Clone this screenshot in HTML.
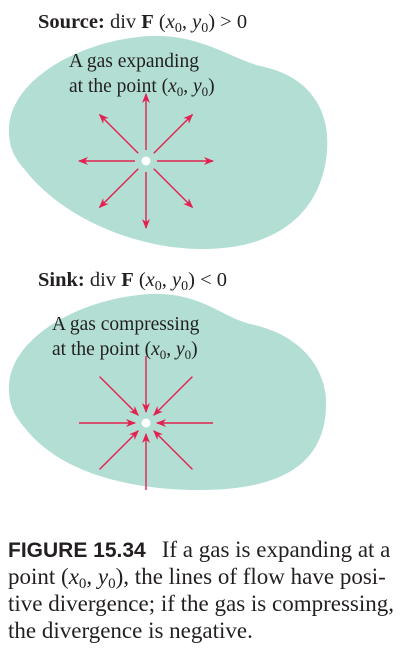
<!DOCTYPE html>
<html><head><meta charset="utf-8"><style>
body{margin:0;width:403px;height:656px;background:#fff;overflow:hidden}
svg{display:block}
.s{font-family:"Liberation Serif",serif;fill:#231f20}
.c{font-family:"Liberation Serif",serif;fill:#231f20;font-size:23px}
</style></head><body>
<svg width="403" height="656" viewBox="0 0 403 656">
<defs>
<marker id="ah" markerWidth="10" markerHeight="8" refX="9" refY="4" orient="auto" markerUnits="userSpaceOnUse">
<path d="M0,0 L10,4 L0,8 L3,4 Z" fill="#e3204f"/></marker>
</defs>
<g>
<text class="s" x="38" y="28" font-size="20.5"><tspan font-weight="bold">Source:</tspan> div <tspan font-weight="bold">F</tspan> (<tspan font-style="italic">x</tspan><tspan font-size="14" dy="4">0</tspan><tspan dy="-4">, </tspan><tspan font-style="italic">y</tspan><tspan font-size="14" dy="4">0</tspan><tspan dy="-4">) &gt; 0</tspan></text>
<path fill="#b2ded4" d="M9,130 C9,80 80,40 150,36 C200,34 230,58 260,66 C310,76 330,110 327,150 C324,200 290,250 200,249 C130,248 60,215 25,170 C12,155 9,145 9,130 Z"/>
<text class="s" x="69" y="67" font-size="19.5">A gas expanding</text>
<text class="s" x="69" y="92" font-size="19.5">at the point (<tspan font-style="italic">x</tspan><tspan font-size="13" dy="4">0</tspan><tspan dy="-4">, </tspan><tspan font-style="italic">y</tspan><tspan font-size="13" dy="4">0</tspan><tspan dy="-4">)</tspan></text>
<g id="outArrows"></g>
<circle cx="146" cy="161" r="4.5" fill="#fff"/>
</g>
<g>
<text class="s" x="38" y="286" font-size="20.5"><tspan font-weight="bold">Sink:</tspan> div <tspan font-weight="bold">F</tspan> (<tspan font-style="italic">x</tspan><tspan font-size="14" dy="4">0</tspan><tspan dy="-4">, </tspan><tspan font-style="italic">y</tspan><tspan font-size="14" dy="4">0</tspan><tspan dy="-4">) &lt; 0</tspan></text>
<path fill="#b2ded4" transform="translate(0,258)" d="M9,130 C9,80 80,40 150,36 C200,34 220,58 250,66 C300,76 328,110 326,150 C324,200 290,232 200,232 C130,232 60,215 25,170 C12,155 9,145 9,130 Z"/>
<text class="s" x="52" y="330" font-size="19.5">A gas compressing</text>
<text class="s" x="52" y="355" font-size="19.5">at the point (<tspan font-style="italic">x</tspan><tspan font-size="13" dy="4">0</tspan><tspan dy="-4">, </tspan><tspan font-style="italic">y</tspan><tspan font-size="13" dy="4">0</tspan><tspan dy="-4">)</tspan></text>
<g id="inArrows"></g>
<circle cx="146" cy="423" r="4.5" fill="#fff"/>
</g>
<g>
<text x="8" y="557"><tspan font-family="Liberation Sans,sans-serif" font-weight="bold" font-size="21" fill="#231f20">FIGURE 15.34</tspan><tspan class="c" dx="16">If a gas is expanding at a</tspan></text>
<text class="c" x="8" y="584">point (<tspan font-style="italic">x</tspan><tspan font-size="15" dy="4">0</tspan><tspan dy="-4">, </tspan><tspan font-style="italic">y</tspan><tspan font-size="15" dy="4">0</tspan><tspan dy="-4">), the lines of flow have posi-</tspan></text>
<text class="c" x="8" y="611">tive divergence; if the gas is compressing,</text>
<text class="c" x="8" y="638">the divergence is negative.</text>
</g>
</svg>
<script>
const angles=[0,45,90,135,180,225,270,315];
const rInner=11, rOuter=67;
const NS="http://www.w3.org/2000/svg";
function draw(gid,cx,cy,outward){
  const g=document.getElementById(gid);
  angles.forEach(a=>{
    const t=a*Math.PI/180, c=Math.cos(t), s=-Math.sin(t);
    const diag=(a%90)?0.98:1;
    const r1=rInner, r2=rOuter*diag;
    const l=document.createElementNS(NS,'line');
    const p=outward?[r1,r2]:[r2,r1];
    l.setAttribute('x1',cx+c*p[0]);l.setAttribute('y1',cy+s*p[0]);
    l.setAttribute('x2',cx+c*p[1]);l.setAttribute('y2',cy+s*p[1]);
    l.setAttribute('stroke','#e3204f');l.setAttribute('stroke-width','1.4');
    l.setAttribute('marker-end','url(#ah)');
    
    
    g.appendChild(l);
  });
}
draw('outArrows',146,161,true);
draw('inArrows',146,423,false);
</script>
</body></html>
